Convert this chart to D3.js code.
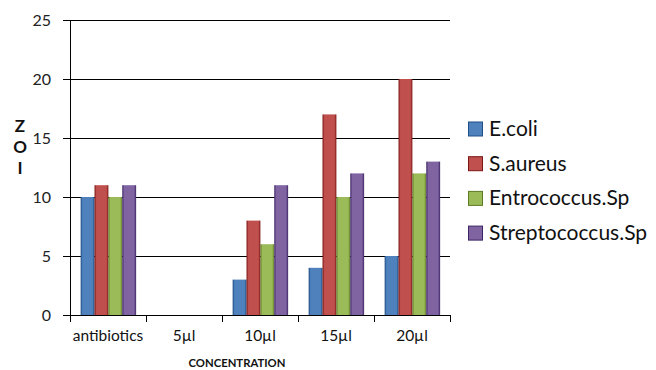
<!DOCTYPE html>
<html><head><meta charset="utf-8">
<script src="https://cdn.jsdelivr.net/npm/d3@7/dist/d3.min.js"></script>
<style>body{margin:0;background:#fff}svg{display:block}</style>
</head><body><svg id="c" width="656" height="370"></svg>
<script>
const categories = ["antibiotics","5µl","10µl","15µl","20µl"];
const seriesNames = ["E.coli","S.aureus","Entrococcus.Sp","Streptococcus.Sp"];
const ecoli = [10,0,3,4,5];
const saureus = [11,0,8,17,20];
const entro = [10,0,6,10,12];
const strepto = [11,0,11,12,13];
const yTicks = [0,5,10,15,20,25];
const colors = ["#4F81BD","#C0504D","#9BBB59","#8064A2"];
const darks = ["#1F4E86","#7A1614","#5E7A25","#3B2464"];

const series = [ecoli,saureus,entro,strepto];
const FONT = "Lato, 'Open Sans', sans-serif";
const svg = d3.select("#c");
const m = {l:70,r:450,t:20,b:315};
const x = d3.scaleBand().domain(categories).range([m.l,m.r]).paddingInner(0).paddingOuter(0);
const xs = d3.scaleBand().domain(seriesNames).range([x.bandwidth()*0.14, x.bandwidth()*0.87]).padding(0);
const y = d3.scaleLinear().domain([0,25]).range([m.b,m.t]);

const defs = svg.append("defs");
colors.forEach((c,i)=>{
  const g = defs.append("linearGradient").attr("id","g"+i).attr("x1","0").attr("x2","1").attr("y1","0").attr("y2","0");
  g.append("stop").attr("offset","0").attr("stop-color",darks[i]);
  g.append("stop").attr("offset","0.15").attr("stop-color",c);
  g.append("stop").attr("offset","0.85").attr("stop-color",c);
  g.append("stop").attr("offset","1").attr("stop-color",darks[i]);
});

// gridlines
svg.append("g").selectAll("line").data(yTicks.filter(d=>d>0)).join("line")
  .attr("x1",m.l).attr("x2",m.r).attr("y1",d=>y(d)).attr("y2",d=>y(d))
  .attr("stroke","#000").attr("stroke-width",1).attr("shape-rendering","crispEdges");

// y axis
const ya = svg.append("g").attr("transform",`translate(${m.l},0)`)
  .call(d3.axisLeft(y).tickValues(yTicks).tickSize(7).tickPadding(12));
ya.select(".domain").attr("stroke","#000").attr("shape-rendering","crispEdges");
ya.selectAll(".tick line").attr("stroke","#000").attr("shape-rendering","crispEdges");
ya.selectAll("text").attr("font-family",FONT).attr("font-size",16).attr("fill","#222");

// x axis
const xa = svg.append("g").attr("transform",`translate(0,${m.b})`)
  .call(d3.axisBottom(x).tickSize(0).tickPadding(15));
xa.select(".domain").attr("stroke","#000").attr("shape-rendering","crispEdges");
xa.selectAll("text").attr("font-family",FONT).attr("font-size",15.5).attr("fill","#111");
const tickPos = categories.map(c=>x(c)).concat([m.r]);
svg.append("g").selectAll("line").data(tickPos).join("line")
  .attr("x1",d=>d).attr("x2",d=>d).attr("y1",m.b).attr("y2",m.b+7)
  .attr("stroke","#000").attr("shape-rendering","crispEdges");

// bars
categories.forEach((c,ci)=>{
  seriesNames.forEach((s,si)=>{
    const v = series[si][ci];
    if(v<=0) return;
    svg.append("rect").attr("x",x(c)+xs(s)).attr("width",xs.bandwidth())
      .attr("y",y(v)).attr("height",y(0)-y(v)).attr("fill",`url(#g${si})`);
  });
});

// y title
const yt = svg.append("text").attr("font-family",FONT).attr("font-weight","bold")
  .attr("font-size",17).attr("fill","#111").attr("text-anchor","middle");
["Z","O","I"].forEach((t,i)=>yt.append("tspan").attr("x",20).attr("y",131.5+i*21.3).text(t));

// x title
svg.append("text").attr("x",237).attr("y",367).attr("text-anchor","middle")
  .attr("font-family",FONT).attr("font-weight","bold").attr("font-size",11.3)
  .attr("fill","#111").text("CONCENTRATION");

// legend
const lg = svg.append("g");
seriesNames.forEach((s,i)=>{
  const cy = 128.5 + i*34.7;
  lg.append("rect").attr("x",468.5).attr("y",cy-6.5).attr("width",14).attr("height",14)
    .attr("fill",colors[i]).attr("stroke",darks[i]).attr("stroke-width",1);
  lg.append("text").attr("x",489).attr("y",cy+7.5).attr("font-family",FONT)
    .attr("font-size",21).attr("fill","#111").text(s);
});
</script></body></html>
